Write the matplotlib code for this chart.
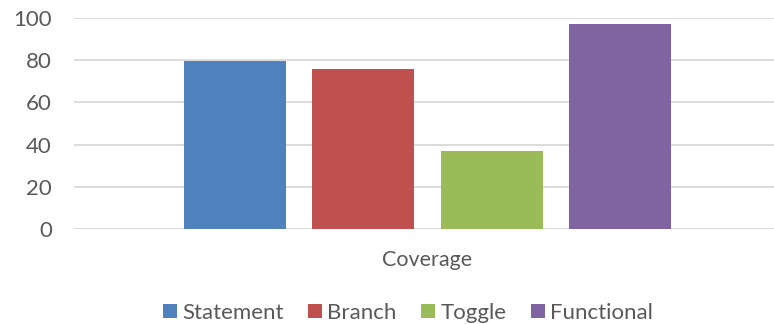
import numpy as np
import matplotlib.pyplot as plt
from matplotlib.patches import Patch

series = ['Statement', 'Branch', 'Toggle', 'Functional']
values = [79.5, 75.7, 36.8, 97.0]
colors = ['#4F81BD', '#C0504D', '#9BBB59', '#8064A2']
category = 'Coverage'
yticks = [0, 20, 40, 60, 80, 100]

text_color = '#595959'
grid_color = '#D9D9D9'
plt.rcParams['font.family'] = ['Lato', 'DejaVu Sans']

W, H = 774, 324
fig = plt.figure(figsize=(W / 100, H / 100), dpi=100)
# plot area in pixels: left 74, right ~781 (runs off the picture), y 18..229
ax = fig.add_axes([74 / W, (H - 229) / H, (781 - 74) / W, (229 - 18) / H])

bar_w = 0.1443
step = 0.1818
offsets = (np.arange(len(series)) - (len(series) - 1) / 2) * step
for off, v, c, name in zip(offsets, values, colors, series):
    ax.bar(off, v, width=bar_w, color=c, label=name, zorder=3)

ax.set_xlim(-0.5, 0.5)
ax.set_ylim(0, 100)
ax.set_yticks(yticks)
ax.set_xticks([0])
ax.set_xticklabels([category])
ax.tick_params(axis='y', length=0, pad=16, labelsize=16, labelcolor=text_color)
ax.tick_params(axis='x', length=0, pad=15, labelsize=15.5, labelcolor=text_color)
ax.grid(True, axis='y', color=grid_color, linewidth=1.3, zorder=0)
for s in ax.spines.values():
    s.set_visible(False)

handles = [Patch(facecolor=c, label=n) for c, n in zip(colors, series)]
fig.legend(handles=handles, loc='center', bbox_to_anchor=(408 / W, (H - 313) / H),
           ncol=4, frameon=False, fontsize=16, labelcolor=text_color,
           handlelength=0.63, handleheight=0.63, handletextpad=0.23,
           columnspacing=1.1, borderaxespad=0, borderpad=0)

fig.savefig('out.png', dpi=100)
